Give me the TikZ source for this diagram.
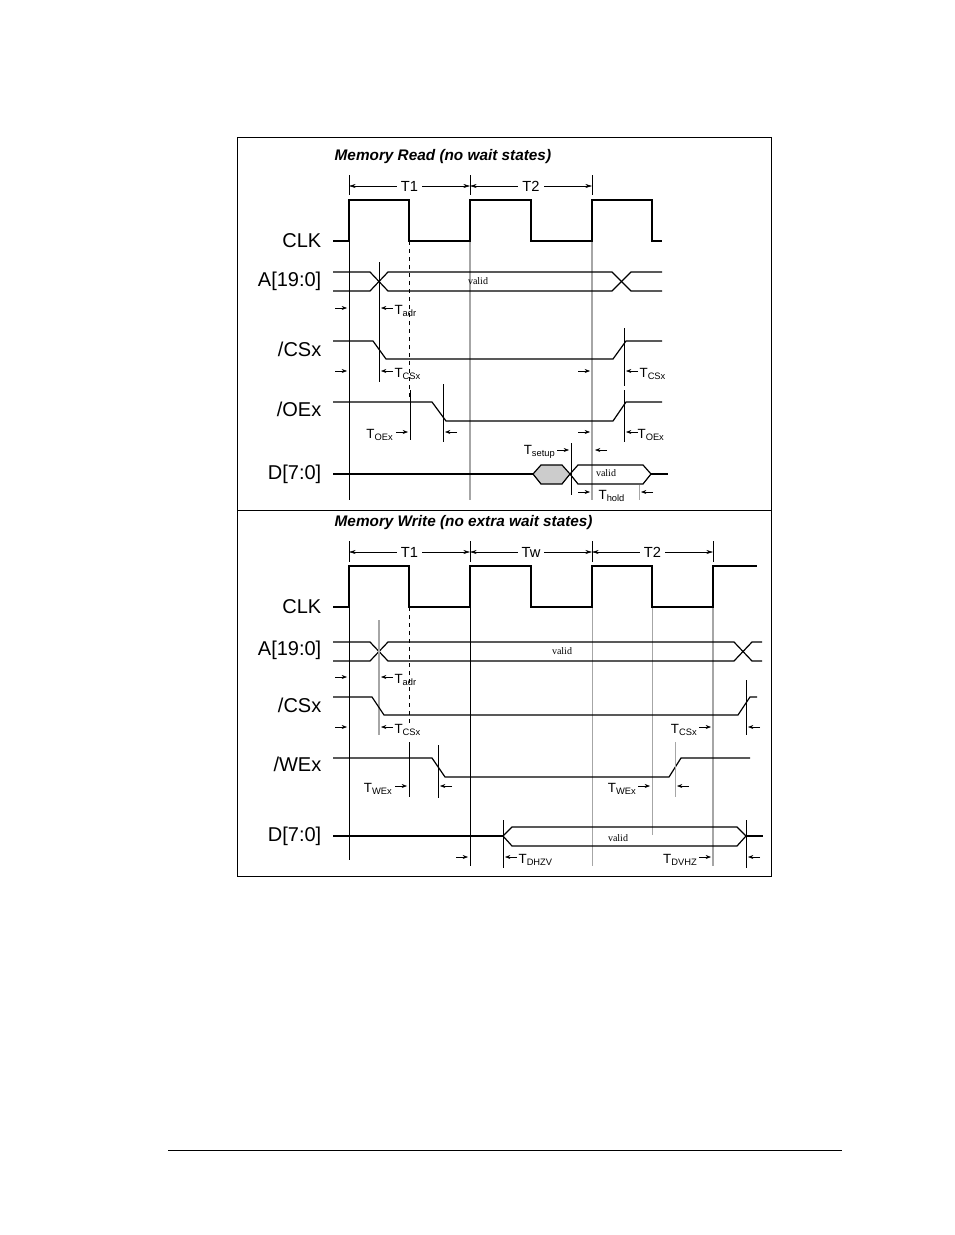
\documentclass[tikz,border=0pt]{standalone}
\usepackage{fontspec}
\setmainfont{Liberation Sans}
\newfontfamily\validfont{Liberation Serif}
\usetikzlibrary{arrows.meta}
\tikzset{
    sig/.style={line width=0.9pt},
    guide/.style={line width=0.5pt, black},
    guidegray/.style={line width=0.9pt, black!35},
    tick/.style={-{Stealth[length=4pt,width=3pt]}, line width=0.4pt},
    span/.style={{Stealth[length=5pt,width=3pt]}-{Stealth[length=5pt,width=3pt]}, line width=0.4pt},
    signame/.style={anchor=east, font=\fontsize{15}{15}\selectfont},
    tlabel/.style={font=\fontsize{10}{10}\selectfont, inner sep=1pt},
    vlabel/.style={font=\validfont\fontsize{7.5}{8}\selectfont},
    title/.style={anchor=west, font=\bfseries\itshape\fontsize{11.5}{12}\selectfont}
}
% arrow pointing right ending at x, and pointing left ending at x
\newcommand{\toR}[2]{\draw[tick] (#1-12,#2) -- (#1,#2);}
\newcommand{\toL}[2]{\draw[tick] (#1+12,#2) -- (#1,#2);}

\begin{document}
\begin{tikzpicture}[x=0.75pt,y=-0.75pt]
\useasboundingbox (0,0) rectangle (954,1235);

% Rahmen
\draw[line width=0.5pt] (237,137) rectangle (771,876);
\draw[line width=0.5pt] (237,510) -- (771,510);
\draw[line width=0.5pt] (168,1150) -- (842,1150);

%%%%%%%%%%%%%%%% Lesezyklus
\node[title] at (330,157) {Memory Read (no wait states)};

% Zeitabschnitte
\foreach \x in {349,470,592} \draw[guide] (\x,175) -- (\x,195);
\draw[span] (349,186) -- node[fill=white, tlabel, font=\fontsize{11}{11}\selectfont, inner sep=3pt] {T1} (470,186);
\draw[span] (470,186) -- node[fill=white, tlabel, font=\fontsize{11}{11}\selectfont, inner sep=3pt] {T2} (592,186);

% Hilfslinien
\draw[guidegray] (470,241) -- (470,500);
\draw[guidegray] (592,241) -- (592,500);
\draw[guide] (349,241) -- (349,500);
\draw[guide, dashed] (409,241) -- (409,400);

% Signalnamen
\node[signame] at (326,241) {CLK};
\node[signame] at (326,281) {A[19:0]};
\node[signame] at (326,349) {/CSx};
\node[signame] at (326,409) {/OEx};
\node[signame] at (326,474) {D[7:0]};

% CLK
\draw[sig] (333,241) -- (349,241) -- (349,200) -- (409,200) -- (409,241) -- (470,241)
  -- (470,200) -- (531,200) -- (531,241) -- (592,241) -- (592,200) -- (652,200)
  -- (652,241) -- (662,241);

% Adressbus
\draw[sig] (333,272) -- (370,272) -- (388,291) -- (612,291) -- (631,272) -- (662,272);
\draw[sig] (333,291) -- (370,291) -- (388,272) -- (612,272) -- (631,291) -- (662,291);
\node[vlabel] at (478,281) {valid};
\draw[guide] (379,262) -- (379,382);
\toR{347}{308}
\toL{381}{308}
\node[tlabel, anchor=west] at (393,311) {T\textsubscript{adr}};

% /CSx
\draw[sig] (333,341) -- (373,341) -- (386,359) -- (613,359) -- (626,341) -- (662,341);
\toR{347}{371}
\toL{381}{371}
\node[tlabel, anchor=west] at (393,374) {T\textsubscript{CSx}};
\draw[guide] (624,328) -- (624,386);
\toR{590}{371}
\toL{626}{371}
\node[tlabel, anchor=west] at (638,374) {T\textsubscript{CSx}};

% /OEx
\draw[sig] (333,402) -- (432,402) -- (446,421) -- (613,421) -- (626,402) -- (662,402);
\draw[guide] (410,390) -- (410,440);
\draw[guide] (443,384) -- (443,442);
\toR{408}{432}
\node[tlabel, anchor=east] at (395,435) {T\textsubscript{OEx}};
\toL{445}{432}
\toR{590}{432}
\draw[guide] (624,390) -- (624,442);
\toL{626}{432}
\node[tlabel, anchor=west] at (636,435) {T\textsubscript{OEx}};

% Datenbus
\draw[sig] (333,474) -- (533,474);
\draw[sig, fill=black!20] (533,474) -- (541,465) -- (562,465) -- (570,474) -- (562,484) -- (541,484) -- cycle;
\draw[sig] (570,474) -- (578,465) -- (643,465) -- (651,474) -- (643,484) -- (578,484) -- cycle;
\draw[sig] (651,474) -- (668,474);
\node[vlabel] at (606,473) {valid};
\draw[guide] (571,443) -- (571,495);
\toR{569}{450}
\node[tlabel, anchor=east] at (557,452) {T\textsubscript{setup}};
\toL{595}{450}
\draw[guidegray, line width=0.6pt] (639,485) -- (639,500);
\toR{590}{492}
\toL{641}{492}
\node[tlabel, anchor=west] at (597,496) {T\textsubscript{hold}};

%%%%%%%%%%%%%%%% Schreibzyklus
\node[title] at (330,523) {Memory Write (no extra wait states)};

\foreach \x in {349,470,592,713} \draw[guide] (\x,541) -- (\x,562);
\draw[span] (349,552) -- node[fill=white, tlabel, font=\fontsize{11}{11}\selectfont, inner sep=3pt] {T1} (470,552);
\draw[span] (470,552) -- node[fill=white, tlabel, font=\fontsize{11}{11}\selectfont, inner sep=3pt] {Tw} (592,552);
\draw[span] (592,552) -- node[fill=white, tlabel, font=\fontsize{11}{11}\selectfont, inner sep=3pt] {T2} (713,552);

% Hilfslinien
\draw[guidegray, line width=0.5pt] (592,607) -- (592,866);
\draw[guidegray, line width=0.5pt] (652,607) -- (652,835);
\draw[guidegray] (713,607) -- (713,866);
\draw[guide] (349,607) -- (349,860);
\draw[guide] (470,607) -- (470,866);
\draw[guide, dashed] (409,607) -- (409,725);

\node[signame] at (326,607) {CLK};
\node[signame] at (326,650) {A[19:0]};
\node[signame] at (326,705) {/CSx};
\node[signame] at (326,764) {/WEx};
\node[signame] at (326,836) {D[7:0]};

% CLK
\draw[sig] (333,607) -- (349,607) -- (349,566) -- (409,566) -- (409,607) -- (470,607)
  -- (470,566) -- (531,566) -- (531,607) -- (592,607) -- (592,566) -- (652,566)
  -- (652,607) -- (713,607) -- (713,566) -- (757,566);

% Adressbus
\draw[sig] (333,642) -- (370,642) -- (388,661) -- (734,661) -- (752,642) -- (762,642);
\draw[sig] (333,661) -- (370,661) -- (388,642) -- (734,642) -- (752,661) -- (762,661);
\node[vlabel] at (562,651) {valid};
\draw[guidegray] (379,620) -- (379,735);
\toR{347}{677}
\toL{381}{677}
\node[tlabel, anchor=west] at (393,680) {T\textsubscript{adr}};

% /CSx
\draw[sig] (333,697) -- (372,697) -- (384,715) -- (738,715) -- (750,697) -- (757,697);
\toR{347}{727}
\toL{381}{727}
\node[tlabel, anchor=west] at (393,730) {T\textsubscript{CSx}};
\draw[guide] (746,680) -- (746,735);
\toR{711}{727}
\node[tlabel, anchor=east] at (699,730) {T\textsubscript{CSx}};
\toL{748}{727}

% /WEx
\draw[sig] (333,758) -- (432,758) -- (445,777) -- (669,777) -- (681,758) -- (750,758);
\draw[guide] (409,742) -- (409,797);
\draw[guide] (438,745) -- (438,798);
\toR{407}{786}
\node[tlabel, anchor=east] at (394,789) {T\textsubscript{WEx}};
\toL{440}{786}
\toR{650}{786}
\node[tlabel, anchor=east] at (638,789) {T\textsubscript{WEx}};
\draw[guidegray, line width=0.6pt] (675,742) -- (675,797);
\toL{677}{786}

% Datenbus
\draw[sig] (333,836) -- (503,836);
\draw[sig] (503,836) -- (512,827) -- (737,827) -- (746,836) -- (737,846) -- (512,846) -- cycle;
\draw[sig] (746,836) -- (763,836);
\node[vlabel] at (618,838) {valid};
\draw[guide] (503,820) -- (503,868);
\draw[guide] (746,820) -- (746,868);
\toR{468}{857}
\toL{505}{857}
\node[tlabel, anchor=west] at (517,860) {T\textsubscript{DHZV}};
\toR{711}{857}
\node[tlabel, anchor=east] at (699,860) {T\textsubscript{DVHZ}};
\toL{748}{857}
\end{tikzpicture}
\end{document}
